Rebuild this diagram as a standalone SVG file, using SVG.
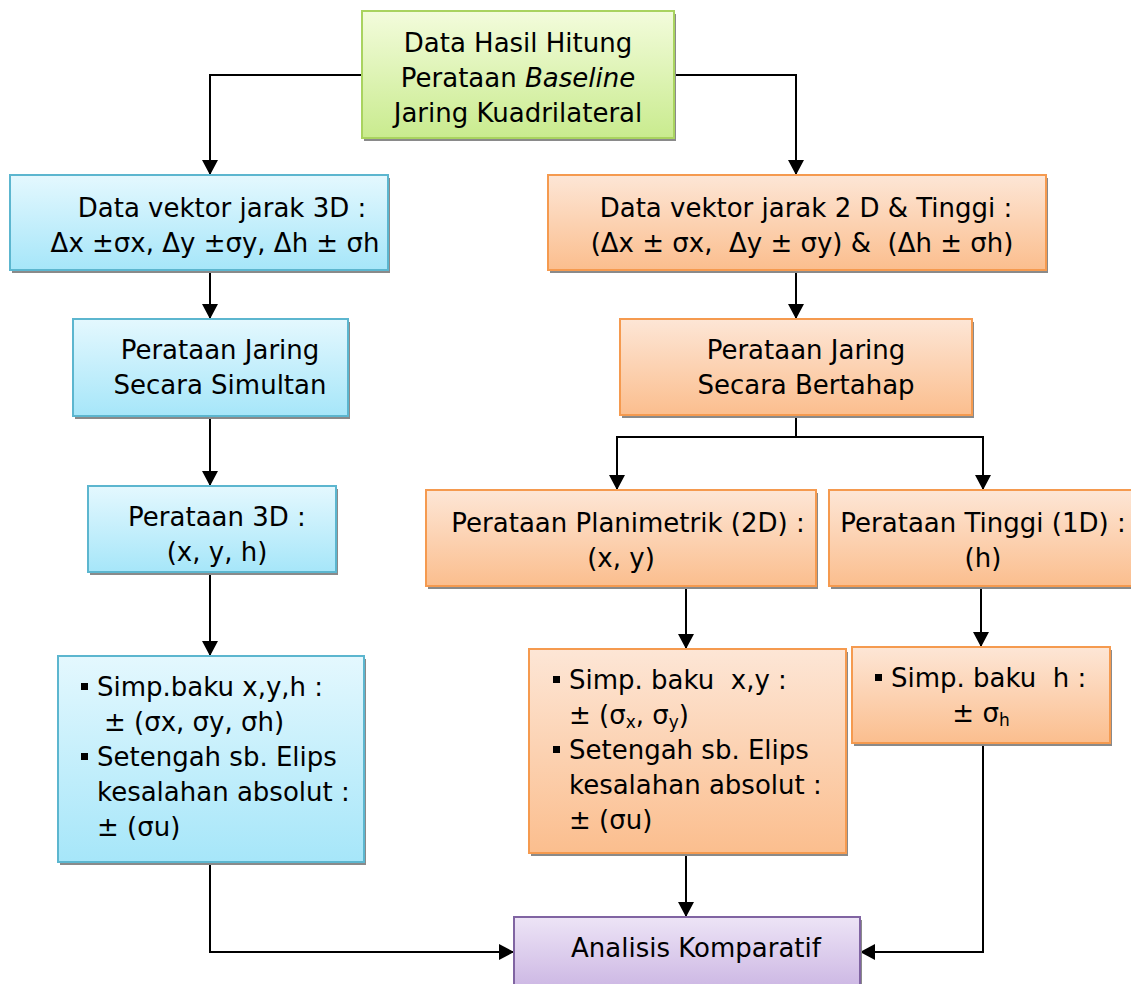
<svg xmlns="http://www.w3.org/2000/svg" width="1131" height="984" viewBox="0 0 1131 984">
<defs>
<linearGradient id="gGreen" x1="0" y1="0" x2="0" y2="1"><stop offset="0" stop-color="#f3fcdc"/><stop offset="1" stop-color="#c9eb8e"/></linearGradient>
<linearGradient id="gBlue" x1="0" y1="0" x2="0" y2="1"><stop offset="0" stop-color="#e4f8fe"/><stop offset="1" stop-color="#a6e6f9"/></linearGradient>
<linearGradient id="gOrange" x1="0" y1="0" x2="0" y2="1"><stop offset="0" stop-color="#fde6d6"/><stop offset="1" stop-color="#fbbe8e"/></linearGradient>
<linearGradient id="gPurple" x1="0" y1="0" x2="0" y2="1"><stop offset="0" stop-color="#ede4f6"/><stop offset="1" stop-color="#cdb8e4"/></linearGradient>
<marker id="arr" markerWidth="15" markerHeight="16" viewBox="0 0 15 16" refX="15" refY="8" orient="auto" markerUnits="userSpaceOnUse"><path d="M0,0 L15,8 L0,16 Z" fill="#000"/></marker>
</defs>
<style>
text{font-family:"DejaVu Sans","Liberation Sans",sans-serif;font-size:26px;fill:#000}
.c{text-anchor:middle}
.sh{fill:#8a8a8a}
.green{fill:url(#gGreen);stroke:#a9d35f;stroke-width:2}
.blue{fill:url(#gBlue);stroke:#5cb6cf;stroke-width:2}
.orange{fill:url(#gOrange);stroke:#f59a4f;stroke-width:2}
.purple{fill:url(#gPurple);stroke:#8064a2;stroke-width:2}
.ln{fill:none;stroke:#000;stroke-width:2}
.sub{font-size:17px}
.bul{fill:#000}
</style>
<rect width="1131" height="984" fill="#fff"/>
<g id="connectors">
<path class="ln" d="M362,75 H210 V175" marker-end="url(#arr)"/>
<path class="ln" d="M674,75 H796 V175" marker-end="url(#arr)"/>
<path class="ln" d="M210,272 V319" marker-end="url(#arr)"/>
<path class="ln" d="M210,418 V486" marker-end="url(#arr)"/>
<path class="ln" d="M210,574 V656" marker-end="url(#arr)"/>
<path class="ln" d="M210,864 V952 H514" marker-end="url(#arr)"/>
<path class="ln" d="M796,272 V319" marker-end="url(#arr)"/>
<path class="ln" d="M796,417 V437"/>
<path class="ln" d="M617,437 H983"/>
<path class="ln" d="M617,436 V490" marker-end="url(#arr)"/>
<path class="ln" d="M983,436 V490" marker-end="url(#arr)"/>
<path class="ln" d="M686,588 V649" marker-end="url(#arr)"/>
<path class="ln" d="M981,588 V647" marker-end="url(#arr)"/>
<path class="ln" d="M686,855 V917" marker-end="url(#arr)"/>
<path class="ln" d="M983,745 V952 H860" marker-end="url(#arr)"/>
</g>
<g id="n-top">
<rect class="sh" x="364" y="14" width="312" height="127"/>
<rect class="green" x="362" y="11" width="312" height="127"/>
<text class="c" x="518" y="52">Data Hasil Hitung</text>
<text class="c" x="518" y="87">Perataan <tspan font-style="italic">Baseline</tspan></text>
<text class="c" x="518" y="122">Jaring Kuadrilateral</text>
</g>
<g id="n-l1">
<rect class="sh" x="12" y="178" width="378" height="95"/>
<rect class="blue" x="10" y="175" width="378" height="95"/>
<text class="c" x="222" y="217">Data vektor jarak 3D :</text>
<text class="c" x="215" y="252">Δx ±σx, Δy ±σy, Δh ± σh</text>
</g>
<g id="n-r1">
<rect class="sh" x="550" y="178" width="498" height="95"/>
<rect class="orange" x="548" y="175" width="498" height="95"/>
<text class="c" x="806" y="217">Data vektor jarak 2 D &amp; Tinggi :</text>
<text class="c" x="802" y="252" xml:space="preserve">(Δx ± σx,  Δy ± σy) &amp;  (Δh ± σh)</text>
</g>
<g id="n-l2">
<rect class="sh" x="75" y="322" width="275" height="97"/>
<rect class="blue" x="73" y="319" width="275" height="97"/>
<text class="c" x="220" y="359">Perataan Jaring</text>
<text class="c" x="220" y="394">Secara Simultan</text>
</g>
<g id="n-r2">
<rect class="sh" x="622" y="322" width="352" height="96"/>
<rect class="orange" x="620" y="319" width="352" height="96"/>
<text class="c" x="806" y="359">Perataan Jaring</text>
<text class="c" x="806" y="394">Secara Bertahap</text>
</g>
<g id="n-l3">
<rect class="sh" x="90" y="489" width="248" height="86"/>
<rect class="blue" x="88" y="486" width="248" height="86"/>
<text class="c" x="217" y="526">Perataan 3D :</text>
<text class="c" x="217" y="561">(x, y, h)</text>
</g>
<g id="n-r3a">
<rect class="sh" x="428" y="493" width="390" height="96"/>
<rect class="orange" x="426" y="490" width="390" height="96"/>
<text class="c" x="628" y="532">Perataan Planimetrik (2D) :</text>
<text class="c" x="621" y="567">(x, y)</text>
</g>
<g id="n-r3b">
<rect class="sh" x="831" y="493" width="302" height="96"/>
<rect class="orange" x="829" y="490" width="303" height="96"/>
<text class="c" x="983" y="532">Perataan Tinggi (1D) :</text>
<text class="c" x="983" y="567">(h)</text>
</g>
<g id="n-l4">
<rect class="sh" x="60" y="659" width="306" height="206"/>
<rect class="blue" x="58" y="656" width="306" height="206"/>
<rect class="bul" x="81" y="683" width="7" height="7"/>
<text x="97" y="696">Simp.baku x,y,h :</text>
<text x="104" y="731">± (σx, σy, σh)</text>
<rect class="bul" x="81" y="753" width="7" height="7"/>
<text x="97" y="766">Setengah sb. Elips</text>
<text x="97" y="801">kesalahan absolut :</text>
<text x="97" y="836">± (σu)</text>
</g>
<g id="n-r4a">
<rect class="sh" x="531" y="652" width="317" height="204"/>
<rect class="orange" x="529" y="649" width="317" height="204"/>
<rect class="bul" x="553" y="676" width="7" height="7"/>
<text x="569" y="689" xml:space="preserve">Simp. baku  x,y :</text>
<text x="569" y="724">± (σ<tspan class="sub" dy="4">x</tspan><tspan dy="-4">, σ</tspan><tspan class="sub" dy="4">y</tspan><tspan dy="-4">)</tspan></text>
<rect class="bul" x="553" y="746" width="7" height="7"/>
<text x="569" y="759">Setengah sb. Elips</text>
<text x="569" y="794">kesalahan absolut :</text>
<text x="569" y="829">± (σu)</text>
</g>
<g id="n-r4b">
<rect class="sh" x="854" y="650" width="258" height="96"/>
<rect class="orange" x="852" y="647" width="258" height="96"/>
<rect class="bul" x="875" y="674" width="7" height="7"/>
<text x="891" y="687" xml:space="preserve">Simp. baku  h :</text>
<text class="c" x="981" y="722">± σ<tspan class="sub" dy="4">h</tspan></text>
</g>
<g id="n-bottom">
<rect class="sh" x="516" y="920" width="346" height="70"/>
<rect class="purple" x="514" y="917" width="346" height="70"/>
<text class="c" x="696" y="957">Analisis Komparatif</text>
</g>
</svg>
